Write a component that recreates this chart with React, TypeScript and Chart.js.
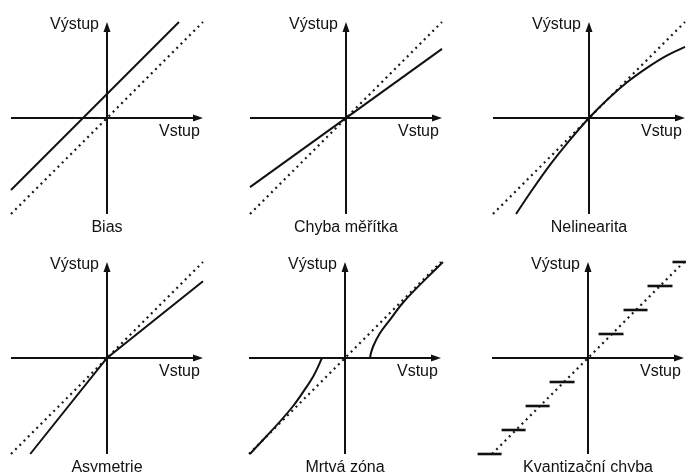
import React, { useEffect, useRef } from "react";
import { Chart, registerables } from "chart.js";

Chart.register(...registerables);

// ---- text ----
const axisLabelIn = "Vstup";
const axisLabelOut = "Výstup";
const panelTitles = [
  "Bias",
  "Chyba měřítka",
  "Nelinearita",
  "Asymetrie",
  "Mrtvá zóna",
  "Kvantizační chyba",
];

// ---- ideal characteristic (dotted), output = input ----
const idealIn = [-1, 1];
const idealOut = [-1, 1];

// ---- Bias: shifted line ----
const biasIn = [-1, 0.75];
const biasOut = [-0.75, 1];

// ---- Chyba měřítka: reduced slope ----
const gainIn = [-1, 1];
const gainOut = [-0.72, 0.72];

// ---- Nelinearita: bending curve ----
const nonlinIn = [-0.76, -0.6, -0.4, -0.2, 0, 0.2, 0.4, 0.6, 0.8, 1.0];
const nonlinOut = [-1.0, -0.76, -0.48, -0.23, 0, 0.2, 0.375, 0.52, 0.645, 0.74];

// ---- Asymetrie: different slope either side of zero ----
const asymIn = [-0.8, 0, 1];
const asymOut = [-1, 0, 0.8];

// ---- Mrtvá zóna: two branches leaving the axis ----
const deadNegIn = [-0.99, -0.54, -0.42, -0.33, -0.28, -0.24];
const deadNegOut = [-1.0, -0.5, -0.33, -0.19, -0.09, 0];
const deadPosIn = [0.26, 0.27, 0.295, 0.365, 0.47, 0.59, 1.02];
const deadPosOut = [0, 0.05, 0.125, 0.26, 0.4, 0.56, 1.0];

// ---- Kvantizační chyba: output levels and the input range of each ----
const stepLevels = [-1, -0.75, -0.5, -0.25, 0.25, 0.5, 0.75, 1];
const stepFrom = [-1.15, -0.9, -0.65, -0.4, 0.11, 0.37, 0.62, 0.88];
const stepTo = [-0.9, -0.65, -0.4, -0.14, 0.37, 0.62, 0.88, 1.14];

// ---- layout ----
const INK = "#111111";
const FONT = '16px "Liberation Sans", Arial, sans-serif';
const PX_PER_UNIT = 96;
const AXIS_MIN = -1;
const AXIS_MAX = 1;

// canvas box of each panel and the page position of its origin
const panelBoxes = [
  { left: 0, top: 0, width: 229, height: 236, ox: 107, oy: 118 },
  { left: 229, top: 0, width: 228, height: 236, ox: 346, oy: 118 },
  { left: 457, top: 0, width: 229, height: 236, ox: 589, oy: 118 },
  { left: 0, top: 236, width: 229, height: 236, ox: 107, oy: 358 },
  { left: 229, top: 236, width: 228, height: 236, ox: 345, oy: 358 },
  { left: 457, top: 236, width: 229, height: 236, ox: 588, oy: 358 },
];

type Pt = { x: number; y: number | null };

const pts = (xs: number[], ys: number[]): Pt[] =>
  xs.map((x, i) => ({ x, y: ys[i] }));

const dotted = () => ({
  data: pts(idealIn, idealOut),
  borderColor: "#1a1a1a",
  borderWidth: 2.2,
  borderDash: [2, 4],
  pointRadius: 0,
  fill: false,
  order: 2,
});

const solid = (xs: number[], ys: number[], smooth = false) => ({
  data: pts(xs, ys),
  borderColor: INK,
  borderWidth: 2,
  pointRadius: 0,
  fill: false,
  tension: 0,
  cubicInterpolationMode: smooth ? "monotone" : "default",
  order: 1,
});

function panelDatasets(idx: number): any[] {
  switch (idx) {
    case 0:
      return [dotted(), solid(biasIn, biasOut)];
    case 1:
      return [dotted(), solid(gainIn, gainOut)];
    case 2:
      return [dotted(), solid(nonlinIn, nonlinOut, true)];
    case 3:
      return [dotted(), solid(asymIn, asymOut)];
    case 4:
      return [
        dotted(),
        solid(deadNegIn, deadNegOut, true),
        solid(deadPosIn, deadPosOut, true),
      ];
    default:
      return [
        dotted(),
        ...stepLevels.map((lvl, i) => ({
          ...solid([stepFrom[i], stepTo[i]], [lvl, lvl]),
          borderWidth: 2.6,
        })),
      ];
  }
}

// axes through the origin with arrowheads, axis names and panel caption
const crossAxes = {
  id: "crossAxes",
  beforeDatasetsDraw(chart: any) {
    const { ctx, scales } = chart;
    const sx = scales.x;
    const sy = scales.y;
    const x0 = Math.round(sx.getPixelForValue(0));
    const y0 = Math.round(sy.getPixelForValue(0));
    const xl = sx.getPixelForValue(AXIS_MIN);
    const xr = sx.getPixelForValue(AXIS_MAX);
    const yb = sy.getPixelForValue(AXIS_MIN);
    const yt = sy.getPixelForValue(AXIS_MAX);
    const head = 10;
    const half = 3.5;
    ctx.save();
    ctx.strokeStyle = INK;
    ctx.fillStyle = INK;
    ctx.lineWidth = 2;
    ctx.beginPath();
    ctx.moveTo(xl, y0);
    ctx.lineTo(xr - head + 1, y0);
    ctx.moveTo(x0, yb);
    ctx.lineTo(x0, yt + head - 1);
    ctx.stroke();
    ctx.beginPath();
    ctx.moveTo(xr, y0);
    ctx.lineTo(xr - head, y0 - half);
    ctx.lineTo(xr - head, y0 + half);
    ctx.closePath();
    ctx.moveTo(x0, yt);
    ctx.lineTo(x0 - half, yt + head);
    ctx.lineTo(x0 + half, yt + head);
    ctx.closePath();
    ctx.fill();
    ctx.restore();
  },
  afterDraw(chart: any, _args: any, opts: any) {
    const { ctx, scales } = chart;
    const sx = scales.x;
    const sy = scales.y;
    const x0 = sx.getPixelForValue(0);
    const y0 = sy.getPixelForValue(0);
    const yt = sy.getPixelForValue(AXIS_MAX);
    ctx.save();
    ctx.fillStyle = INK;
    ctx.font = FONT;
    ctx.textBaseline = "middle";
    ctx.textAlign = "right";
    ctx.fillText(axisLabelOut, x0 - 8, yt + 3);
    ctx.textAlign = "left";
    ctx.fillText(axisLabelIn, x0 + 52, y0 + 14);
    ctx.textAlign = "center";
    ctx.fillText(opts.title, x0, y0 + 110);
    ctx.restore();
  },
};

function buildConfig(idx: number): any {
  const b = panelBoxes[idx];
  const s = PX_PER_UNIT;
  return {
    type: "line",
    data: { datasets: panelDatasets(idx) },
    options: {
      responsive: false,
      animation: false,
      events: [],
      devicePixelRatio: 1,
      layout: { padding: 0 },
      plugins: {
        legend: { display: false },
        tooltip: { enabled: false },
        crossAxes: { title: panelTitles[idx] },
      },
      scales: {
        x: {
          type: "linear",
          display: false,
          min: (b.left - b.ox) / s,
          max: (b.left + b.width - b.ox) / s,
        },
        y: {
          type: "linear",
          display: false,
          min: (b.oy - b.top - b.height) / s,
          max: (b.oy - b.top) / s,
        },
      },
    },
    plugins: [crossAxes],
  };
}

function Panel({ idx }: { idx: number }) {
  const ref = useRef<HTMLCanvasElement>(null);
  useEffect(() => {
    if (!ref.current) return;
    const chart = new Chart(ref.current, buildConfig(idx));
    return () => chart.destroy();
  }, [idx]);
  const b = panelBoxes[idx];
  return (
    <canvas
      ref={ref}
      width={b.width}
      height={b.height}
      style={{
        position: "absolute",
        left: b.left,
        top: b.top,
        width: b.width,
        height: b.height,
      }}
    />
  );
}

export default function App() {
  return (
    <div
      style={{
        position: "fixed",
        left: 0,
        top: 0,
        width: 686,
        height: 472,
        background: "#ffffff",
        overflow: "hidden",
      }}
    >
      {panelBoxes.map((_, i) => (
        <Panel key={i} idx={i} />
      ))}
    </div>
  );
}
